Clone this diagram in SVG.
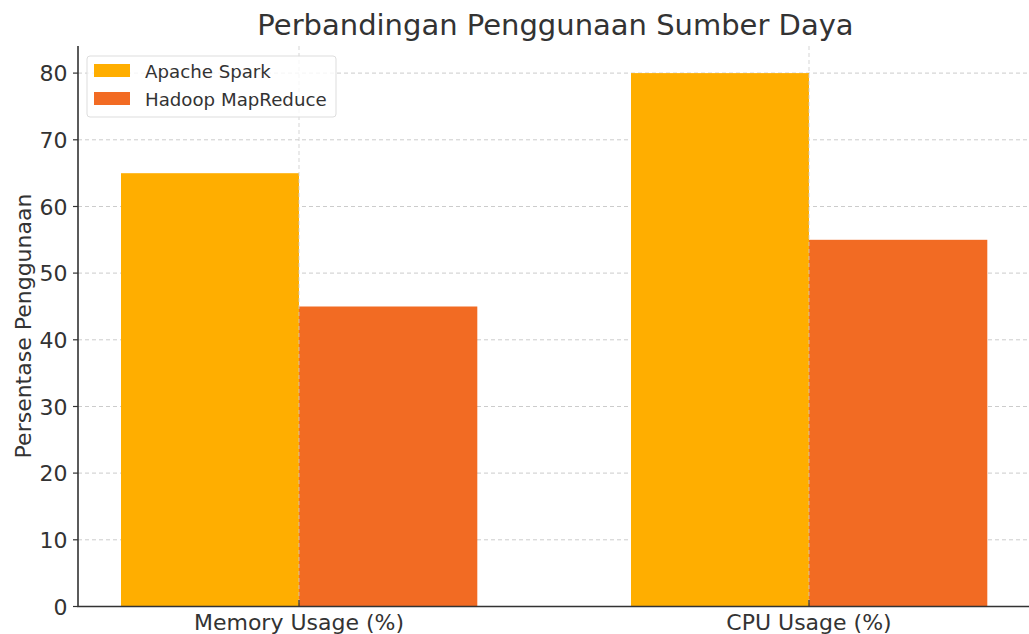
<svg xmlns="http://www.w3.org/2000/svg" width="1029" height="634" viewBox="0 0 1029 634">
<style>
text{font-family:"DejaVu Sans",sans-serif;fill:#333333}
.grid{stroke:#cccccc;stroke-width:1;stroke-dasharray:4,3}
.vgrid{stroke:#cccccc;stroke-width:1;stroke-dasharray:4,3;opacity:0.8}
.axis{stroke:#333333;stroke-width:1.6;fill:none}
.tick{stroke:#333333;stroke-width:1.2}
.spark{fill:#FFAE00}
.hadoop{fill:#F26B23}
.ytl{font-size:22px;text-anchor:end}
.xtl{font-size:22px;text-anchor:middle}
</style>
<rect width="1029" height="634" fill="#ffffff"/>
<text x="555.5" y="35" font-size="29" text-anchor="middle">Perbandingan Penggunaan Sumber Daya</text>
<g id="grid">
<line class="grid" x1="78" y1="539.8" x2="1029" y2="539.8"/>
<line class="grid" x1="78" y1="473.1" x2="1029" y2="473.1"/>
<line class="grid" x1="78" y1="406.5" x2="1029" y2="406.5"/>
<line class="grid" x1="78" y1="339.8" x2="1029" y2="339.8"/>
<line class="grid" x1="78" y1="273.1" x2="1029" y2="273.1"/>
<line class="grid" x1="78" y1="206.5" x2="1029" y2="206.5"/>
<line class="grid" x1="78" y1="139.8" x2="1029" y2="139.8"/>
<line class="grid" x1="78" y1="73.1" x2="1029" y2="73.1"/>
</g>
<g id="bars">
<rect class="spark" x="121" y="173.2" width="178" height="433.3"/>
<rect class="hadoop" x="299" y="306.5" width="178.3" height="300"/>
<rect class="spark" x="631" y="73.1" width="178" height="533.4"/>
<rect class="hadoop" x="809" y="239.8" width="178.3" height="366.7"/>
</g>
<g id="vgrid">
<line class="vgrid" x1="299" y1="46" x2="299" y2="606.5"/>
<line class="vgrid" x1="809" y1="46" x2="809" y2="606.5"/>
</g>
<g id="axes">
<polyline class="axis" points="78,46 78,606.5 1029,606.5"/>
<line class="tick" x1="73" y1="606.5" x2="78" y2="606.5"/>
<line class="tick" x1="73" y1="539.8" x2="78" y2="539.8"/>
<line class="tick" x1="73" y1="473.1" x2="78" y2="473.1"/>
<line class="tick" x1="73" y1="406.5" x2="78" y2="406.5"/>
<line class="tick" x1="73" y1="339.8" x2="78" y2="339.8"/>
<line class="tick" x1="73" y1="273.1" x2="78" y2="273.1"/>
<line class="tick" x1="73" y1="206.5" x2="78" y2="206.5"/>
<line class="tick" x1="73" y1="139.8" x2="78" y2="139.8"/>
<line class="tick" x1="73" y1="73.1" x2="78" y2="73.1"/>
<line class="tick" x1="299" y1="600" x2="299" y2="606.5"/>
<line class="tick" x1="809" y1="600" x2="809" y2="606.5"/>
<text class="ytl" x="67.5" y="614.5">0</text>
<text class="ytl" x="67.5" y="547.8">10</text>
<text class="ytl" x="67.5" y="481.1">20</text>
<text class="ytl" x="67.5" y="414.5">30</text>
<text class="ytl" x="67.5" y="347.8">40</text>
<text class="ytl" x="67.5" y="281.1">50</text>
<text class="ytl" x="67.5" y="214.5">60</text>
<text class="ytl" x="67.5" y="147.8">70</text>
<text class="ytl" x="67.5" y="81.1">80</text>
<text class="xtl" x="299" y="629.5">Memory Usage (%)</text>
<text class="xtl" x="809" y="629.5">CPU Usage (%)</text>
<text x="0" y="0" font-size="22" text-anchor="middle" transform="translate(31,326) rotate(-90)">Persentase Penggunaan</text>
</g>
<g id="legend">
<rect x="87" y="56" width="249" height="61" rx="3" fill="#ffffff" fill-opacity="0.8" stroke="#dddddd" stroke-width="1"/>
<rect class="spark" x="94" y="64" width="36" height="13"/>
<rect class="hadoop" x="94" y="92" width="36" height="13"/>
<text x="145" y="78" font-size="18.2">Apache Spark</text>
<text x="145" y="106" font-size="18.2">Hadoop MapReduce</text>
</g>
</svg>
